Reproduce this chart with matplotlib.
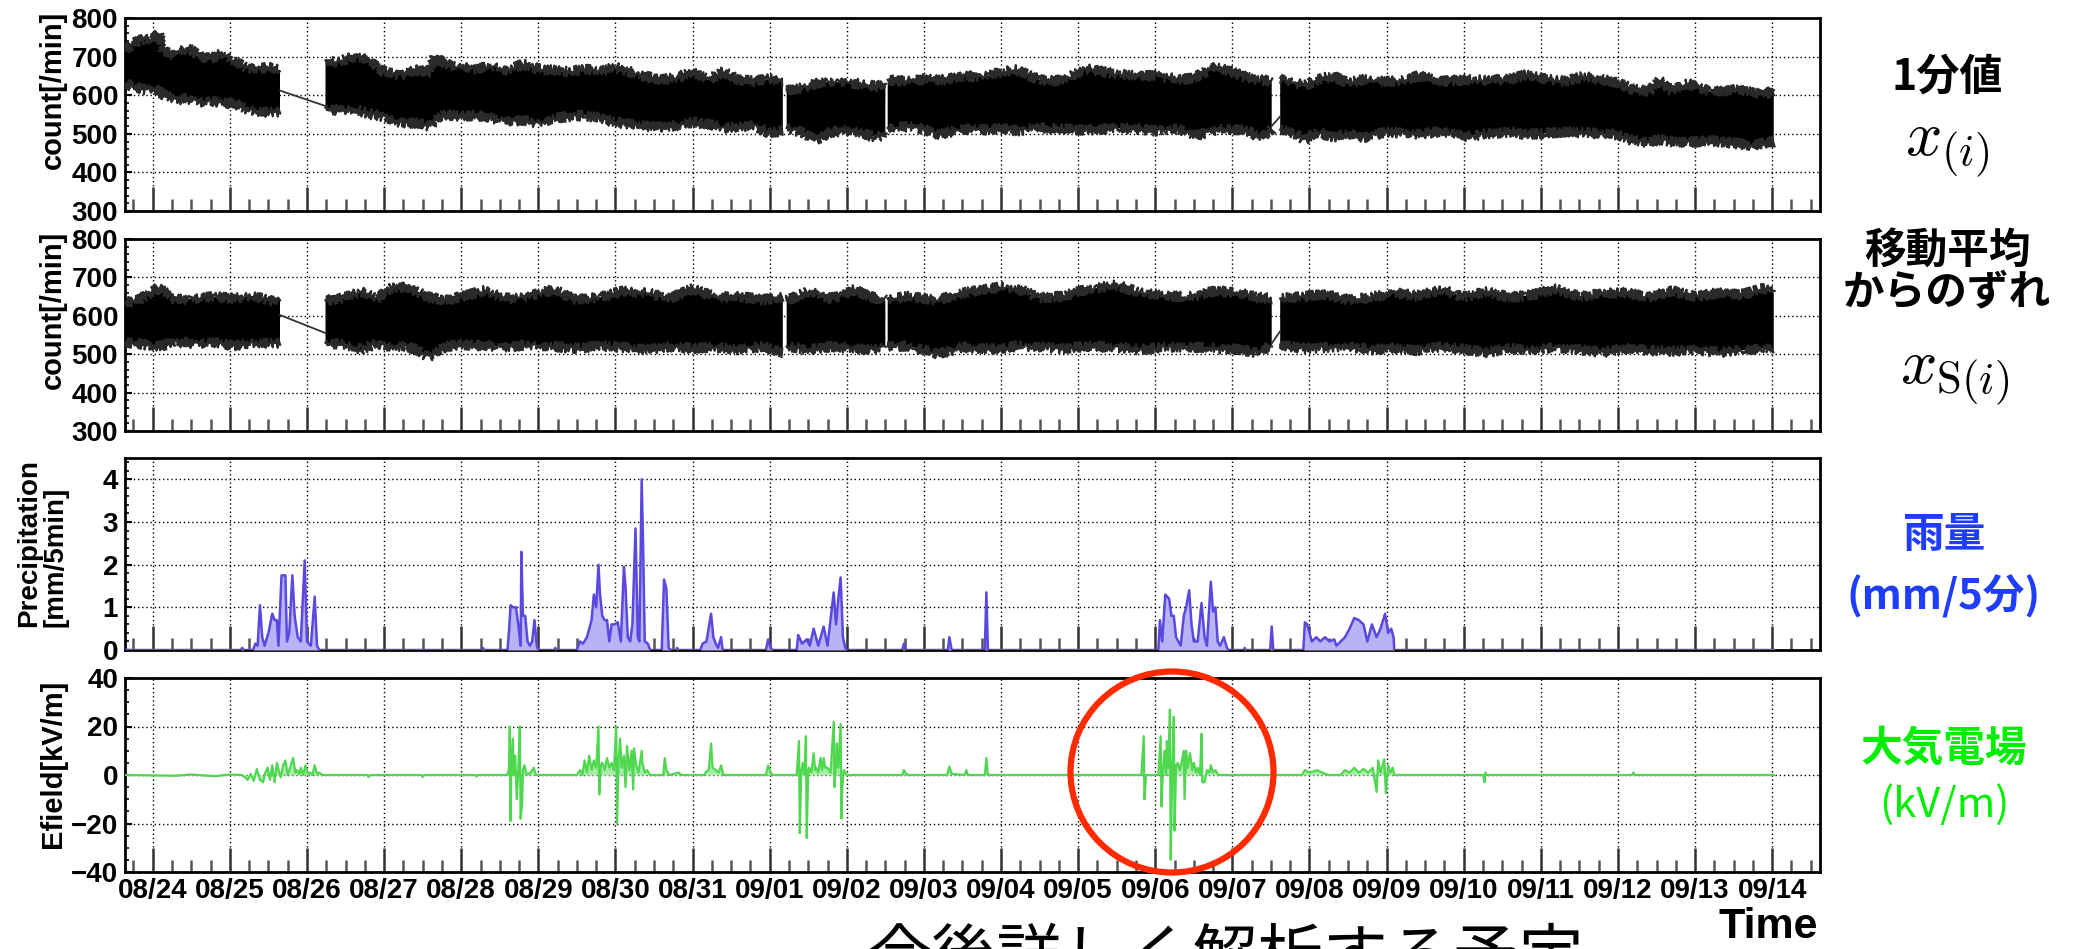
import matplotlib
matplotlib.use("Agg")
import matplotlib.pyplot as plt
from matplotlib.patches import Ellipse
from matplotlib.ticker import MultipleLocator, FixedLocator
import numpy as np

plt.rcParams['font.family'] = ['Liberation Sans', 'DejaVu Sans']
plt.rcParams['font.weight'] = 'bold'
plt.rcParams['mathtext.fontset'] = 'cm'
nan = np.nan
JP = ['Noto Sans CJK JP', 'DejaVu Sans']

# time axis in days since 08/24 00:00
day_labels = ['08/24', '08/25', '08/26', '08/27', '08/28', '08/29', '08/30', '08/31',
              '09/01', '09/02', '09/03', '09/04', '09/05', '09/06', '09/07', '09/08',
              '09/09', '09/10', '09/11', '09/12', '09/13', '09/14']
x_min, x_max = -0.36, 21.62

# 1-minute counts: upper / lower edge of the dense band (nan = data gap)
raw_t = [-0.35, -0.25, -0.1, 0.0, 0.07, 0.15, 0.3, 0.45, 0.6, 0.75, 0.9, 1.05, 1.2, 1.35, 1.5, 1.65, nan,
         2.24, 2.4, 2.6, 2.8, 3.0, 3.2, 3.4, 3.6, 3.66, 3.8, 4.0, 4.2, 4.4, 4.6, 4.8, 5.0, 5.2, 5.4,
         5.6, 5.8, 6.0, 6.2, 6.4, 6.6, 6.8, 7.0, 7.2, 7.4, 7.6, 7.8, 8.0, 8.17, nan,
         8.22, 8.4, 8.6, 8.8, 9.0, 9.2, 9.4, 9.5, nan,
         9.53, 9.8, 10.0, 10.2, 10.5, 10.8, 11.0, 11.2, 11.5, 11.8, 12.1, 12.5, 12.8, 13.0, 13.3,
         13.5, 13.8, 14.0, 14.2, 14.36, 14.51, nan,
         14.62, 14.8, 14.94, 15.1, 15.3, 15.5, 15.7, 16.0, 16.2, 16.42, 16.7, 17.05, 17.3, 17.6,
         17.8, 18.1, 18.3, 18.55, 18.8, 19.0, 19.2, 19.4, 19.54, 19.7, 19.9, 20.2, 20.5, 20.72, 20.9, 21.02]
raw_hi = [718, 735, 748, 742, 760, 712, 705, 725, 700, 695, 708, 690, 672, 668, 672, 665, nan,
          690, 685, 700, 695, 660, 652, 665, 660, 700, 680, 672, 668, 676, 665, 680, 668, 664, 660,
          668, 662, 672, 660, 648, 640, 645, 662, 640, 660, 640, 636, 642, 638, nan,
          612, 618, 630, 636, 632, 630, 622, 632, nan,
          640, 636, 642, 638, 650, 648, 660, 665, 640, 638, 668, 655, 648, 652, 640,
          645, 674, 660, 645, 640, 635, nan,
          645, 632, 625, 640, 650, 632, 640, 635, 638, 650, 636, 640, 638, 642,
          652, 640, 636, 648, 640, 632, 615, 610, 638, 612, 630, 610, 614, 608, 600, 614]
raw_lo = [630, 622, 615, 620, 612, 600, 588, 592, 582, 585, 578, 580, 565, 558, 555, 558, nan,
          568, 560, 565, 552, 545, 530, 528, 520, 538, 550, 545, 548, 540, 532, 535, 528, 540, 545,
          548, 540, 530, 525, 520, 518, 522, 530, 525, 515, 518, 522, 500, 510, nan,
          515, 505, 485, 505, 508, 500, 490, 505, nan,
          515, 518, 512, 498, 512, 510, 515, 508, 515, 512, 510, 515, 512, 508, 512,
          494, 510, 512, 508, 486, 512, nan,
          510, 500, 485, 505, 492, 500, 490, 505, 502, 500, 505, 493, 500, 505,
          498, 502, 505, 503, 500, 498, 482, 478, 485, 480, 478, 482, 476, 470, 476, 480]
raw_join_t = [1.65, 2.24, nan, 14.51, 14.62]
raw_join_v = [612, 572, nan, 520, 545]

# deviation from moving average
dev_t = [-0.35, -0.2, 0.07, 0.3, 0.55, 0.8, 1.05, 1.3, 1.5, 1.65, nan,
         2.24, 2.5, 2.7, 2.9, 3.1, 3.3, 3.58, 3.8, 4.0, 4.3, 4.6, 4.9, 5.2, 5.5, 5.8, 6.1, 6.4,
         6.7, 7.0, 7.3, 7.6, 7.9, 8.17, nan,
         8.22, 8.5, 8.8, 9.1, 9.3, 9.5, nan,
         9.53, 9.8, 10.18, 10.5, 10.8, 11.0, 11.2, 11.5, 11.8, 12.1, 12.5, 12.8, 13.1, 13.4, 13.8,
         14.1, 14.3, 14.51, nan,
         14.62, 14.9, 15.2, 15.5, 15.8, 16.1, 16.4, 16.7, 17.0, 17.3, 17.6, 17.9, 18.2, 18.5, 18.8,
         19.1, 19.4, 19.7, 20.0, 20.3, 20.6, 20.9, 21.02]
dev_hi = [635, 640, 672, 642, 645, 650, 645, 652, 640, 642, nan,
          640, 648, 662, 645, 672, 676, 648, 640, 650, 665, 645, 652, 668, 642, 648, 665, 660,
          645, 670, 648, 650, 642, 648, nan,
          640, 662, 645, 668, 650, 640, nan,
          645, 650, 640, 660, 668, 675, 672, 648, 650, 668, 680, 660, 655, 648, 665,
          660, 648, 645, nan,
          645, 650, 655, 642, 648, 660, 652, 668, 650, 662, 648, 655, 670, 650, 658,
          660, 648, 665, 650, 660, 655, 672, 660]
dev_lo = [530, 528, 520, 532, 528, 530, 522, 530, 528, 530, nan,
          530, 525, 512, 528, 520, 522, 494, 520, 525, 522, 518, 525, 520, 515, 522, 518, 512,
          520, 515, 518, 512, 520, 505, nan,
          520, 512, 520, 515, 512, 520, nan,
          520, 522, 500, 518, 515, 512, 522, 520, 515, 520, 518, 512, 518, 520, 515,
          512, 505, 522, nan,
          525, 515, 518, 520, 512, 515, 510, 520, 512, 505, 515, 510, 518, 512, 505,
          515, 510, 508, 512, 505, 510, 515, 508]
dev_join_t = [1.65, 2.24, nan, 14.51, 14.62]
dev_join_v = [602, 555, nan, 528, 560]

# precipitation [mm/5min]
rain_t = [-0.35, 1.14, 1.16, 1.18, 1.30, 1.33, 1.36, 1.39, 1.42, 1.45, 1.50, 1.55, 1.58, 1.61, 1.63,
          1.67, 1.72, 1.74, 1.77, 1.81, 1.84, 1.88, 1.92, 1.97, 2.00, 2.05, 2.10, 2.13, 2.16,
          4.27, 4.28, 4.30, 4.60, 4.62, 4.64, 4.67, 4.71, 4.74, 4.77, 4.78, 4.80, 4.83, 4.86, 4.89,
          4.92, 4.95, 4.98, 5.00, 5.21, 5.22, 5.23,
          5.50, 5.54, 5.58, 5.63, 5.66, 5.69, 5.72, 5.75, 5.78, 5.80, 5.83, 5.86, 5.89, 5.92, 5.95,
          5.99, 6.03, 6.07, 6.11, 6.13, 6.16, 6.19, 6.22, 6.26, 6.29, 6.31, 6.34, 6.36, 6.38, 6.42,
          6.45, 6.60, 6.63, 6.66, 6.69, 6.72, 6.79, 6.80, 6.81,
          7.10, 7.13, 7.18, 7.24, 7.27, 7.30, 7.33, 7.37, 7.39,
          7.95, 7.98, 8.01, 8.04,
          8.35, 8.37, 8.42, 8.48, 8.52, 8.57, 8.63, 8.70, 8.75, 8.83, 8.86, 8.89, 8.92, 8.95, 8.98, 9.00,
          9.72, 9.74, 9.76, 10.31, 10.33, 10.36, 10.79, 10.81, 10.83,
          13.04, 13.06, 13.09, 13.13, 13.18, 13.21, 13.24, 13.27, 13.33, 13.37, 13.40, 13.44, 13.47,
          13.50, 13.55, 13.60, 13.64, 13.67, 13.72, 13.75, 13.78, 13.81, 13.84, 13.89, 13.93, 13.95,
          14.15, 14.16, 14.17, 14.49, 14.51, 14.53,
          14.92, 14.94, 14.97, 15.03, 15.09, 15.14, 15.20, 15.26, 15.32, 15.35, 15.46, 15.52, 15.58,
          15.64, 15.70, 15.75, 15.81, 15.87, 15.92, 15.98, 16.02, 16.06, 16.09, 16.10, 21.02]
rain_v = [0, 0, 0.05, 0, 0, 0.15, 0.1, 1.05, 0.3, 0.1, 0.4, 0.85, 0.7, 0.7, 0.1,
          1.75, 1.75, 0.2, 0.4, 1.75, 0.8, 0.3, 0.2, 2.1, 0.2, 0.1, 1.25, 0.1, 0,
          0, 0.05, 0, 0, 0.45, 1.05, 1.0, 1.0, 0.6, 0.1, 2.3, 0.8, 0.8, 0.2, 0.1,
          0.2, 0.7, 0.1, 0, 0, 0.05, 0,
          0, 0.2, 0.15, 0.3, 0.5, 0.7, 1.3, 1.0, 2.0, 1.3, 0.8, 0.7, 0.7, 0.2, 0.6,
          0.6, 0.65, 0.2, 1.95, 1.5, 0.3, 0.2, 0.6, 2.85, 0.3, 0.2, 4.0, 2.3, 0.2, 0.15,
          0, 0, 1.65, 1.45, 0.05, 0, 0, 0.05, 0,
          0, 0.15, 0.2, 0.85, 0.3, 0.15, 0.05, 0.3, 0,
          0, 0.25, 0.05, 0,
          0, 0.35, 0.15, 0.25, 0.1, 0.5, 0.1, 0.55, 0.1, 1.35, 0.6, 1.2, 1.7, 0.3, 0.05, 0,
          0, 0.15, 0, 0, 0.3, 0, 0, 1.35, 0,
          0, 0.7, 0.2, 1.3, 1.2, 0.8, 0.8, 0.3, 0.1, 0.8, 1.0, 1.4, 0.6,
          0.2, 0.2, 1.1, 0.3, 0.1, 1.6, 0.9, 1.0, 0.2, 0.1, 0.3, 0.05, 0,
          0, 0.05, 0, 0, 0.55, 0,
          0, 0.65, 0.6, 0.2, 0.3, 0.2, 0.3, 0.2, 0.25, 0.1, 0.3, 0.5, 0.75,
          0.7, 0.6, 0.2, 0.6, 0.3, 0.5, 0.85, 0.4, 0.5, 0.3, 0, 0]

# atmospheric electric field [kV/m]
ef_t = [-0.35, 0.3, 0.5, 0.8, 1.0, 1.15, 1.20, 1.23, 1.27, 1.31, 1.35, 1.39, 1.43, 1.46, 1.49, 1.52,
        1.55, 1.58, 1.61, 1.64, 1.66, 1.69, 1.72, 1.75, 1.78, 1.82, 1.85, 1.87, 1.90, 1.92, 1.95,
        1.98, 2.01, 2.04, 2.07, 2.10, 2.13, 2.16, 2.20, 2.78, 2.8, 2.82, 3.48, 3.5, 3.52, 4.18, 4.2, 4.22,
        4.60, 4.62, 4.63, 4.64, 4.65, 4.67, 4.68, 4.70, 4.72, 4.74, 4.76, 4.77, 4.79, 4.80, 4.82,
        4.85, 4.90, 4.94, 4.97,
        5.50, 5.54, 5.57, 5.60, 5.63, 5.66, 5.69, 5.72, 5.75, 5.78, 5.79, 5.81, 5.83, 5.86, 5.89,
        5.92, 5.95, 5.98, 6.01, 6.02, 6.04, 6.06, 6.08, 6.11, 6.13, 6.15, 6.18, 6.21, 6.23, 6.24,
        6.27, 6.30, 6.34, 6.35, 6.38, 6.41, 6.45, 6.62, 6.64, 6.66, 6.70, 6.82, 6.85,
        7.15, 7.18, 7.21, 7.24, 7.26, 7.30, 7.34, 7.37, 7.40, 7.95, 7.98, 8.01, 8.04,
        8.35, 8.38, 8.39, 8.41, 8.43, 8.45, 8.47, 8.48, 8.50, 8.51, 8.54, 8.57, 8.59, 8.60, 8.63,
        8.66, 8.68, 8.70, 8.72, 8.75, 8.79, 8.83, 8.84, 8.86, 8.87, 8.89, 8.92, 8.93, 8.94, 8.96, 9.00,
        9.72, 9.74, 9.77, 9.80, 10.30, 10.33, 10.36, 10.53, 10.55, 10.57, 10.79, 10.81, 10.83,
        12.82, 12.85, 12.86, 12.88, 13.04, 13.07, 13.08, 13.10, 13.12, 13.14, 13.15, 13.17, 13.19,
        13.20, 13.22, 13.24, 13.25, 13.27, 13.29, 13.32, 13.37, 13.38, 13.40, 13.42, 13.45, 13.48,
        13.50, 13.53, 13.55, 13.58, 13.60, 13.61, 13.64, 13.67, 13.70, 13.72, 13.75, 13.78, 13.82,
        14.90, 14.94, 15.00, 15.10, 15.20, 15.25,
        15.40, 15.46, 15.52, 15.58, 15.64, 15.70, 15.76, 15.82, 15.87, 15.89, 15.92, 15.97, 15.99,
        16.02, 16.05, 16.08, 16.10, 17.25, 17.27, 17.28, 17.30, 19.18, 19.2, 19.22, 21.02]
ef_v = [0, -0.3, 0.2, -0.5, 0.2, 0, -1, -2, 0.5, -2.5, 2.5, -2, -3, 1, 3, -2,
        4, -3, 5, 1, -1, 4, 6, 0, 3, 7, 1, 2, 0.5, 3, 0,
        4, 0.5, 1, 0, 4, 0.5, 1, 0, 0, -0.8, 0, 0, -0.8, 0, 0, -0.6, 0,
        0, 3, 20, -19, 5, 15, 0, 8, -10, 2, 20, -18, -12, 2, 4,
        0, 1, 3, 0,
        0, 2, 0, 6, 1, 8, 2, 6, 3, 20, -8, 4, 5, 2, 7,
        3, 5, 2, 20, -20, 6, 15, 3, 8, -5, 12, 2, 10, -6, 11,
        4, 1, 10, 5, 1, 2, 0, 0, 7, 2, 0, 1, 0,
        0, 1.5, 2, 13, 3, 2, 1, 4, 0, 0, 4, 1, 0,
        0, 14, -24, 2, 5, 0, 16, -26, 2, 3, 1, 9, 2, 3, 1,
        7, 2, 7, 3, 3, 1, 22, -5, 4, 13, 3, 21, -18, -6, 2, 0,
        0, 2, 0.5, 0, 0, 3.5, 0.5, 0, 2, 0, 0, 7, 0,
        0, 16, -10, 0, 0, 16, -13, 2, 10, 0, 14, 3, 27,
        -35, 2, 24, -23, 4, 5, 2, 10, -10, 10, 3, 9, 2,
        5, 1, 3, 0, 17, -3, -3, 2, 1, 4, 1, 2, 0,
        0, 2, 1, 2, 0.5, 0,
        0, 2, 1, 3, 1, 2.5, 1, 3, -7, 6, 1, 6.5, -7.5,
        4, 1, 3, 0, 0, -3, 1, 0, 0, 1, 0, 0]

W, H = 2074, 949
fig = plt.figure(figsize=(W / 100, H / 100), dpi=100)
AX_L, AX_R = 125, 1820


def panel(top, bottom):
    return fig.add_axes([AX_L / W, 1 - bottom / H, (AX_R - AX_L) / W, (bottom - top) / H])


def style(ax, ylim, major, minor, show_x=False):
    ax.set_xlim(x_min, x_max)
    ax.set_ylim(*ylim)
    ax.xaxis.set_major_locator(FixedLocator(range(len(day_labels))))
    ax.xaxis.set_minor_locator(MultipleLocator(0.25))
    ax.yaxis.set_major_locator(MultipleLocator(major))
    ax.yaxis.set_minor_locator(MultipleLocator(minor))
    ax.tick_params(axis='x', which='major', direction='in', length=17, width=1.8,
                   color='#333333', top=False, pad=4, labelsize=20)
    ax.tick_params(axis='x', which='minor', direction='in', length=8.5, width=1.8,
                   color='#555555', top=False)
    ax.tick_params(axis='y', which='major', direction='in', length=5, width=1.5,
                   right=False, pad=5, labelsize=20)
    ax.tick_params(axis='y', which='minor', direction='in', length=3, width=1.2, right=False)
    ax.grid(True, which='major', color='black', linestyle=(0, (1, 2)), linewidth=1.0)
    ax.set_axisbelow(True)
    for s in ax.spines.values():
        s.set_linewidth(2)
    if show_x:
        ax.set_xticklabels(day_labels)
    else:
        ax.set_xticklabels([])


def band(ax, t, hi, lo, jt, jv):
    t, hi, lo = np.array(t, float), np.array(hi, float), np.array(lo, float)
    ax.fill_between(t, lo, hi, color='black', lw=0, zorder=3)
    # rough edges, like the minute-by-minute scatter of the original
    for edge in (hi, lo):
        ln, = ax.plot(t, edge, color='#2a2a2a', lw=1.6, zorder=3)
        ln.set_sketch_params(scale=5, length=2, randomness=1.5)
    ax.plot(jt, jv, color='#333333', lw=1.3, zorder=3)


ax1 = panel(18, 211)
band(ax1, raw_t, raw_hi, raw_lo, raw_join_t, raw_join_v)
style(ax1, (300, 800), 100, 20)

ax2 = panel(239, 431)
band(ax2, dev_t, dev_hi, dev_lo, dev_join_t, dev_join_v)
style(ax2, (300, 800), 100, 20)

ax3 = panel(458, 650)
ax3.fill_between(rain_t, rain_v, 0, color='#b9b3f5', lw=0, zorder=3)
ax3.plot(rain_t, rain_v, color='#5a48e0', lw=1.8, zorder=4)
style(ax3, (0, 4.5), 1, 0.2)

ax4 = panel(678, 872)
ax4.fill_between(ef_t, ef_v, 0, color='#a8eca8', lw=0, zorder=3)
ax4.plot(ef_t, ef_v, color='#4fd84f', lw=1.6, zorder=4)
style(ax4, (-40, 40), 20, 5, show_x=True)


def ftext(x, y, s, **kw):
    return fig.text(x / W, 1 - y / H, s, **kw)


# axis titles (ROOT style, aligned to the top of each axis)
ftext(53, 11, 'count[/min]', rotation=90, ha='center', va='top', fontsize=21)
ftext(53, 231, 'count[/min]', rotation=90, ha='center', va='top', fontsize=21)
ftext(42, 627, 'Precipitation\n[mm/5min]', rotation=90, ha='center', va='bottom',
      fontsize=20, multialignment='left', linespacing=1.0)
ftext(53, 680, 'Efield[kV/m]', rotation=90, ha='center', va='top', fontsize=21)
ftext(1818, 947, 'Time', ha='right', va='bottom', fontsize=31)

# annotations on the right
ftext(1947, 77, '1分値', ha='center', va='center', fontsize=31, family=JP, color='black')
ftext(1947, 150, r'$x_{(i)}$', ha='center', va='center', fontsize=46, fontweight='normal')
ftext(1947, 251, '移動平均', ha='center', va='center', fontsize=30, family=JP)
ftext(1947, 292, 'からのずれ', ha='center', va='center', fontsize=30, family=JP)
ftext(1955, 378, r'$x_{\mathrm{S}(i)}$', ha='center', va='center', fontsize=46, fontweight='normal')
ftext(1944, 535, '雨量', ha='center', va='center', fontsize=30, family=JP, color='#1f3dff')
ftext(1944, 597, '(mm/5分)', ha='center', va='center', fontsize=30, family=JP, color='#1f3dff')
ftext(1944, 748, '大気電場', ha='center', va='center', fontsize=30, family=JP, color='#00ee00')
ftext(1944, 805, '(kV/m)', ha='center', va='center', fontsize=30, family=JP, color='#00ee00',
      fontweight='normal')
ftext(1226, 926, '今後詳しく解析する予定', ha='center', va='top', fontsize=47, family=JP,
      fontweight='normal')

# hand-drawn red circle around the 09/06 event
fig.add_artist(Ellipse((1172 / W, 1 - 772 / H), 203 / W, 201 / H, transform=fig.transFigure,
                       fill=False, ec='#ff2a00', lw=4.5, zorder=10))

fig.savefig('out.png', dpi=100)
